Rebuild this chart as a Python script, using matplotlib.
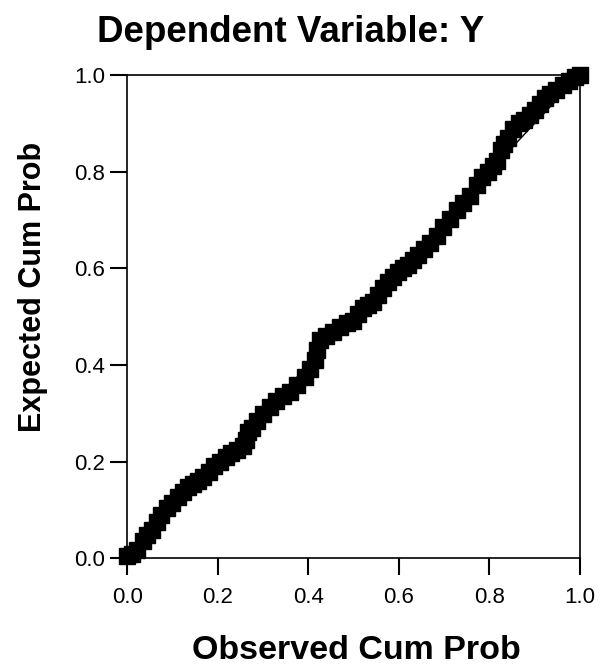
import matplotlib
matplotlib.use("Agg")
import matplotlib.pyplot as plt

plt.rcParams['font.family'] = ['Liberation Sans', 'DejaVu Sans']

# Observed vs expected cumulative probabilities
observed = [0.000, 0.010, 0.022, 0.035, 0.045, 0.055, 0.065, 0.075, 0.088, 0.100,
            0.112, 0.124, 0.135, 0.146, 0.157, 0.168, 0.180, 0.192, 0.205, 0.218,
            0.230, 0.243, 0.256, 0.262, 0.268, 0.276, 0.288, 0.300, 0.316, 0.330,
            0.345, 0.360, 0.375, 0.393, 0.405, 0.415, 0.420, 0.425, 0.440, 0.455,
            0.470, 0.485, 0.499, 0.510, 0.521, 0.532, 0.543, 0.555, 0.566, 0.577,
            0.587, 0.598, 0.609, 0.620, 0.631, 0.642, 0.655, 0.669, 0.684, 0.698,
            0.713, 0.728, 0.742, 0.757, 0.772, 0.785, 0.797, 0.808, 0.818, 0.825,
            0.832, 0.842, 0.852, 0.865, 0.877, 0.889, 0.900, 0.912, 0.923, 0.935,
            0.948, 0.962, 0.975, 0.989, 1.000]
expected = [0.005, 0.008, 0.017, 0.035, 0.048, 0.058, 0.075, 0.090, 0.104, 0.115,
            0.127, 0.137, 0.147, 0.153, 0.160, 0.168, 0.178, 0.190, 0.199, 0.210,
            0.218, 0.225, 0.232, 0.245, 0.262, 0.270, 0.285, 0.298, 0.313, 0.325,
            0.335, 0.344, 0.358, 0.375, 0.392, 0.410, 0.432, 0.451, 0.460, 0.468,
            0.478, 0.486, 0.492, 0.505, 0.518, 0.524, 0.530, 0.545, 0.560, 0.572,
            0.582, 0.592, 0.600, 0.608, 0.617, 0.628, 0.640, 0.652, 0.668, 0.685,
            0.702, 0.720, 0.735, 0.750, 0.772, 0.790, 0.800, 0.812, 0.822, 0.845,
            0.858, 0.870, 0.888, 0.900, 0.908, 0.917, 0.928, 0.940, 0.952, 0.962,
            0.970, 0.979, 0.988, 0.996, 1.000]

ticks = [0.0, 0.2, 0.4, 0.6, 0.8, 1.0]
tick_labels = ["0.0", "0.2", "0.4", "0.6", "0.8", "1.0"]

fig = plt.figure(figsize=(6.11, 6.71), dpi=100)
ax = fig.add_axes([0.208, 0.168, 0.741, 0.720])

# reference diagonal
ax.plot([0, 1], [0, 1], color="black", linewidth=1.0)
ax.plot(observed, expected, linestyle="none", marker="s", markersize=12,
        color="black", clip_on=False)

ax.set_xlim(0, 1)
ax.set_ylim(0, 1)
ax.set_xticks(ticks)
ax.set_yticks(ticks)
ax.set_xticklabels(tick_labels)
ax.set_yticklabels(tick_labels)
ax.tick_params(direction="out", length=12, width=1.5, labelsize=16, pad=4)
ax.tick_params(axis="x", pad=9)
for s in ax.spines.values():
    s.set_linewidth(1.2)

fig.text(0.475, 0.951, "Dependent Variable: Y", ha="center", va="center",
         fontsize=26.5, fontweight="bold")
fig.text(0.583, 0.031, "Observed Cum Prob", ha="center", va="center",
         fontsize=24.5, fontweight="bold")
fig.text(0.054, 0.572, "Expected Cum Prob", ha="center", va="center",
         rotation=90, fontsize=22, fontweight="bold")

fig.savefig("out.png", dpi=100)
